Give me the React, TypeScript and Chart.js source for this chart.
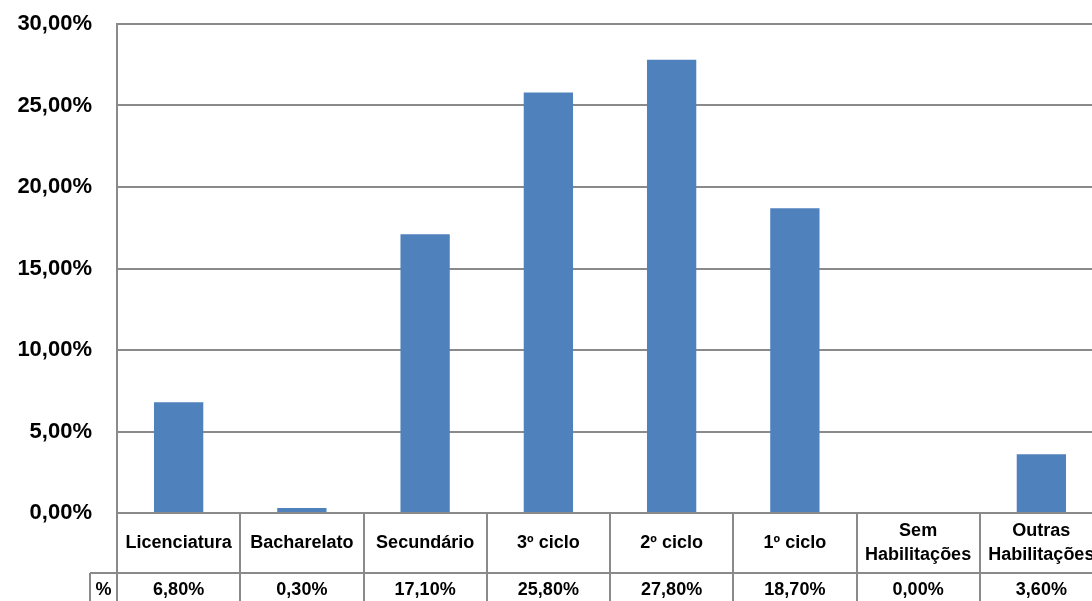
import React, { useEffect, useRef } from "react";
import { Chart, registerables } from "chart.js";

Chart.register(...registerables);

const categories: string[][] = [
  ["Licenciatura"],
  ["Bacharelato"],
  ["Secundário"],
  ["3º ciclo"],
  ["2º ciclo"],
  ["1º ciclo"],
  ["Sem", "Habilitações"],
  ["Outras", "Habilitações"],
];
const values: number[] = [6.8, 0.3, 17.1, 25.8, 27.8, 18.7, 0.0, 3.6];
const seriesName = "%";
const yMax = 30;
const yStep = 5;

const fmt = (v: number) => v.toFixed(2).replace(".", ",") + "%";

const GRID = "#8a8a8a";
const FONT = "'Liberation Sans', Arial, sans-serif";

const tablePlugin = {
  id: "dataTable",
  afterDraw(chart: any) {
    const ctx = chart.ctx;
    const a = chart.chartArea;
    const n = categories.length;
    const w = (a.right - a.left) / n;
    const row1Bottom = a.bottom + 60;
    const bottom = chart.height + 10;
    const labelLeft = 90;
    ctx.save();
    ctx.strokeStyle = GRID;
    ctx.lineWidth = 2;
    ctx.beginPath();
    for (let i = 0; i <= n; i++) {
      const x = Math.round(a.left + i * w);
      ctx.moveTo(x, a.bottom);
      ctx.lineTo(x, bottom);
    }
    ctx.moveTo(labelLeft, row1Bottom);
    ctx.lineTo(a.right, row1Bottom);
    ctx.moveTo(labelLeft, row1Bottom);
    ctx.lineTo(labelLeft, bottom);
    ctx.stroke();

    ctx.fillStyle = "#000";
    ctx.textAlign = "center";
    ctx.textBaseline = "middle";
    ctx.font = `bold 18px ${FONT}`;
    const row1Mid = (a.bottom + row1Bottom) / 2;
    const row2Mid = row1Bottom + 17;
    for (let i = 0; i < n; i++) {
      const cx = a.left + (i + 0.5) * w;
      const lines = categories[i];
      const lh = 24;
      lines.forEach((t, j) => {
        const y = row1Mid + (j - (lines.length - 1) / 2) * lh;
        ctx.fillText(t, cx, y);
      });
      ctx.fillText(fmt(values[i]), cx, row2Mid);
    }
    ctx.fillText(seriesName, (labelLeft + a.left) / 2, row2Mid);
    ctx.restore();
  },
};

export default function App() {
  const ref = useRef<HTMLCanvasElement | null>(null);
  useEffect(() => {
    document.body.style.margin = "0";
    const chart = new Chart(ref.current as HTMLCanvasElement, {
      type: "bar",
      data: {
        labels: categories,
        datasets: [
          {
            label: seriesName,
            data: values,
            backgroundColor: "#4F81BD",
            categoryPercentage: 1,
            barPercentage: 0.4,
          },
        ],
      },
      options: {
        responsive: false,
        animation: false,
        devicePixelRatio: 1,
        layout: { padding: { top: 24, right: 7, left: 0, bottom: 0 } },
        plugins: { legend: { display: false }, tooltip: { enabled: false } },
        scales: {
          x: {
            grid: { display: false },
            border: { display: false },
            ticks: { display: false },
            afterFit: (s: any) => {
              s.height = 88;
            },
          },
          y: {
            min: 0,
            max: yMax,
            ticks: {
              stepSize: yStep,
              padding: 0,
              color: "#000",
              font: { family: FONT, size: 22, weight: "bold" },
              callback: (v: any) => fmt(Number(v)),
            },
            grid: {
              color: GRID,
              lineWidth: 2,
              drawTicks: true,
              tickLength: 25,
              tickColor: "rgba(0,0,0,0)",
            },
            border: { color: GRID, width: 2 },
            afterFit: (s: any) => {
              s.width = 117;
            },
          },
        },
      },
      plugins: [tablePlugin],
    });
    return () => chart.destroy();
  }, []);
  return (
    <div
      style={{
        position: "fixed",
        left: 0,
        top: 0,
        width: 1092,
        height: 601,
        overflow: "hidden",
        background: "#fff",
      }}
    >
      <canvas ref={ref} width={1110} height={601} style={{ width: 1110, height: 601 }} />
    </div>
  );
}
